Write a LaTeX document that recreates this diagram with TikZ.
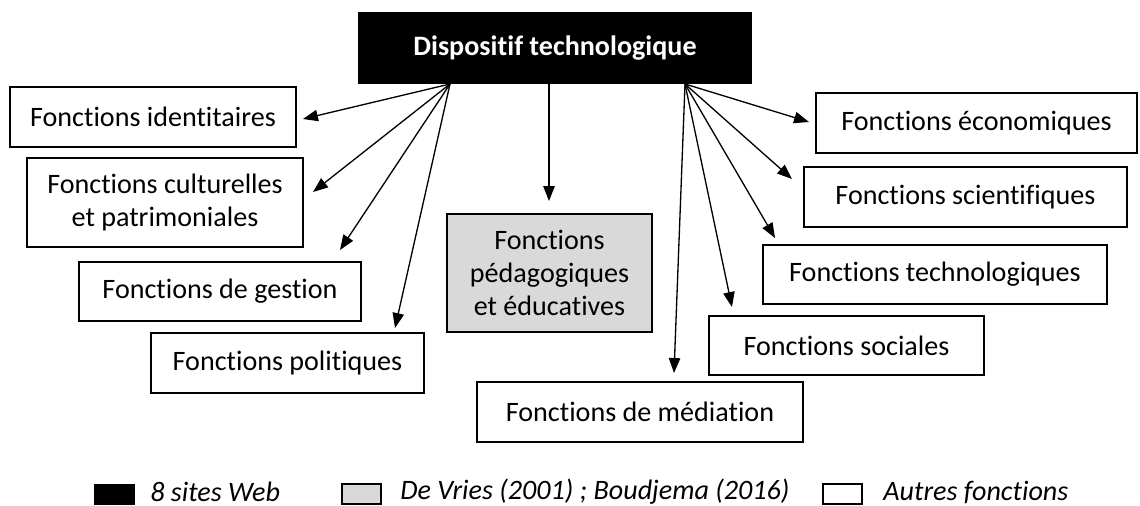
\documentclass[tikz,border=0pt]{standalone}
\usepackage{fontspec}
\setmainfont{Carlito}[Ligatures=NoCommon]
\usetikzlibrary{arrows.meta}
\definecolor{pedagray}{HTML}{D9D9D9}
\tikzset{
  fonction/.style={draw, line width=0.8pt, inner sep=0pt, align=center,
    font=\fontsize{16}{19}\selectfont},
  fleche/.style={-{Triangle[length=8.5pt,width=6.5pt]}, line width=0.75pt},
  legende/.style={draw, line width=0.8pt, minimum width=0.78cm, minimum height=0.4cm, inner sep=0pt},
  legtexte/.style={anchor=west, inner sep=0pt, font=\fontsize{16}{19}\selectfont\itshape}
}
\begin{document}
\begin{tikzpicture}[x=0.02cm, y=-0.02cm]
            \useasboundingbox (0, 0) rectangle (1140, 506);

            \node[fill=black, text=white, inner sep=0pt, minimum width=7.88cm, minimum height=1.44cm,
              font=\fontsize{16}{19}\selectfont\bfseries] (dispositif) at (555, 48){Dispositif technologique};

            \node[fonction, minimum width=5.72cm, minimum height=1.2cm] (identitaires) at (153, 117){Fonctions identitaires};
            \node[fonction, minimum width=5.52cm, minimum height=1.78cm] (culturelles) at (165, 202.5){Fonctions culturelles\\et patrimoniales};
            \node[fonction, minimum width=5.64cm, minimum height=1.18cm] (gestion) at (220, 291.5){Fonctions de gestion};
            \node[fonction, minimum width=5.46cm, minimum height=1.2cm] (politiques) at (287.5, 363){Fonctions politiques};
            \node[fonction, fill=pedagray, minimum width=4.1cm, minimum height=2.36cm] (pedagogiques) at (549.5, 273){Fonctions\\pédagogiques\\et éducatives};
            \node[fonction, minimum width=6.52cm, minimum height=1.2cm] (mediation) at (640, 412){Fonctions de médiation};
            \node[fonction, minimum width=6.42cm, minimum height=1.2cm] (economiques) at (976.5, 123){Fonctions économiques};
            \node[fonction, minimum width=6.46cm, minimum height=1.2cm] (scientifiques) at (965.5, 197){Fonctions scientifiques};
            \node[fonction, minimum width=6.88cm, minimum height=1.18cm] (technologiques) at (935, 274.5){Fonctions technologiques};
            \node[fonction, minimum width=5.5cm, minimum height=1.18cm] (sociales) at (846.5, 345.5){Fonctions sociales};

            \coordinate (faisceauG) at (450, 84);
            \coordinate (faisceauC) at (549, 84);
            \coordinate (faisceauD) at (685, 84);

            \coordinate (versIdentitaires) at (303, 119);
            \coordinate (versCulturelles) at (313, 192);
            \coordinate (versGestion) at (340, 250);
            \coordinate (versPolitiques) at (395, 328);
            \coordinate (versPedagogiques) at (549, 201);
            \coordinate (versMediation) at (674, 373);
            \coordinate (versSociales) at (732, 307);
            \coordinate (versTechnologiques) at (775, 238);
            \coordinate (versScientifiques) at (792, 179);
            \coordinate (versEconomiques) at (809, 122);

            \foreach \cible in {Identitaires, Culturelles, Gestion, Politiques}
              \draw[fleche] (faisceauG) -- (vers\cible);
            \draw[fleche] (faisceauC) -- (versPedagogiques);
            \foreach \cible in {Mediation, Sociales, Technologiques, Scientifiques, Economiques}
              \draw[fleche] (faisceauD) -- (vers\cible);

            \node[legende, fill=black] (legNoir) at (114.5, 494.5){};
            \node[legtexte] (txtNoir) at (150, 492){8 sites Web};
            \node[legende, fill=pedagray] (legGris) at (361.5, 494){};
            \node[legtexte] (txtGris) at (400, 492){De Vries (2001) ; Boudjema (2016)};
            \node[legende, fill=white] (legBlanc) at (842.5, 494){};
            \node[legtexte] (txtBlanc) at (883, 492){Autres fonctions};
        \end{tikzpicture}
\end{document}
